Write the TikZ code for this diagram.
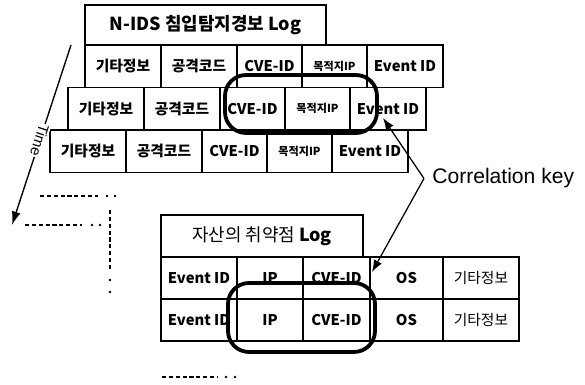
\documentclass[tikz,border=0pt]{standalone}
\usepackage{fontspec}
\setmainfont{Noto Sans CJK KR}
\newfontfamily\arialfont{Liberation Sans}
\usetikzlibrary{positioning, arrows.meta}

\begin{document}
\begin{tikzpicture}[
    cell/.style={draw, line width=1.4pt, rectangle, fill=white, align=center,
                 font=\fontsize{14}{16}\selectfont\bfseries,
                 minimum height=1.417cm, inner sep=0pt, outer sep=0pt},
    titlebox/.style={cell, font=\fontsize{17}{20}\selectfont\bfseries},
    wide/.style={minimum width=2.533cm},
    narrow/.style={minimum width=2.167cm},
    smallkr/.style={font=\fontsize{10.5}{12}\selectfont\bfseries},
    plainkr/.style={font=\fontsize{14}{16}\selectfont},
    keybox/.style={draw, line width=3.6pt, rounded corners=0.7cm, inner sep=0pt},
    keyarrow/.style={line width=1.2pt, -{Latex[length=0.4cm, width=0.3cm]}},
    trail/.style={line width=2.4pt, dash pattern=on 4pt off 2.5pt}
]
    \useasboundingbox (0,0) rectangle (19.5,-12.833);

    % --- N-IDS Log (stacked records) ---
    \node[titlebox, anchor=north west, minimum width=8.033cm, minimum height=1.333cm]
        (ids) at (2.833,-0.167) {N-IDS 침입탐지경보 Log};

    \node[cell, wide, anchor=north west] (ids1etc) at (ids.south west) {기타정보};
    \node[cell, wide, right=0pt of ids1etc]   (ids1atk) {공격코드};
    \node[cell, narrow, right=0pt of ids1atk] (ids1cve) {CVE-ID};
    \node[cell, narrow, smallkr, right=0pt of ids1cve] (ids1dst) {목적지IP};
    \node[cell, wide, right=0pt of ids1dst]   (ids1evt) {Event ID};

    \node[cell, wide, anchor=north west] (ids2etc) at (2.267,-2.917) {기타정보};
    \node[cell, wide, right=0pt of ids2etc]   (ids2atk) {공격코드};
    \node[cell, narrow, right=0pt of ids2atk] (ids2cve) {CVE-ID};
    \node[cell, narrow, smallkr, right=0pt of ids2cve] (ids2dst) {목적지IP};
    \node[cell, wide, right=0pt of ids2dst]   (ids2evt) {Event ID};

    \node[cell, wide, anchor=north west] (ids3etc) at (1.667,-4.333) {기타정보};
    \node[cell, wide, right=0pt of ids3etc]   (ids3atk) {공격코드};
    \node[cell, narrow, right=0pt of ids3atk] (ids3cve) {CVE-ID};
    \node[cell, narrow, smallkr, right=0pt of ids3cve] (ids3dst) {목적지IP};
    \node[cell, wide, right=0pt of ids3dst]   (ids3evt) {Event ID};

    % --- Vulnerability Log ---
    \node[cell, plainkr, anchor=north west, minimum width=6.733cm, minimum height=1.4cm,
          font=\fontsize{17}{20}\selectfont]
        (vuln) at (5.367,-7.167) {자산의 취약점 {\bfseries Log}};

    \node[cell, wide, minimum height=1.4cm, anchor=north west] (vuln1evt) at (vuln.south west) {Event ID};
    \node[cell, minimum width=2.2cm, minimum height=1.4cm, right=0pt of vuln1evt]   (vuln1ip)  {IP};
    \node[cell, minimum width=2.233cm, minimum height=1.4cm, right=0pt of vuln1ip]  (vuln1cve) {CVE-ID};
    \node[cell, minimum width=2.433cm, minimum height=1.4cm, right=0pt of vuln1cve] (vuln1os)  {OS};
    \node[cell, plainkr, wide, minimum height=1.4cm, right=0pt of vuln1os]          (vuln1etc) {기타정보};

    \node[cell, wide, minimum height=1.4cm, anchor=north west] (vuln2evt) at (vuln1evt.south west) {Event ID};
    \node[cell, minimum width=2.2cm, minimum height=1.4cm, right=0pt of vuln2evt]   (vuln2ip)  {IP};
    \node[cell, minimum width=2.233cm, minimum height=1.4cm, right=0pt of vuln2ip]  (vuln2cve) {CVE-ID};
    \node[cell, minimum width=2.433cm, minimum height=1.4cm, right=0pt of vuln2cve] (vuln2os)  {OS};
    \node[cell, plainkr, wide, minimum height=1.4cm, right=0pt of vuln2os]          (vuln2etc) {기타정보};

    % --- Correlation keys ---
    \node[keybox, minimum width=5.067cm, minimum height=1.933cm] (key1) at (10.033,-3.467) {};
    \node[keybox, minimum width=4.9cm, minimum height=2.3cm]     (key2) at (10.05,-10.583) {};

    \node[anchor=west, inner sep=0.27cm, font=\arialfont\fontsize{20}{24}\selectfont]
        (corr) at (14.133,-5.95) {Correlation key};
    \coordinate (tip1) at (12.767,-3.933);
    \coordinate (tip2) at (12.4,-9.067);
    \draw[keyarrow] (corr.west) -- (tip1);
    \draw[keyarrow] (corr.west) -- (tip2);

    % --- Time axis ---
    \coordinate (tstart) at (2.367,-1.5);
    \coordinate (tend)   at (0.4,-7.5);
    \draw[line width=1.3pt, -{Latex[length=0.45cm, width=0.3cm]}] (tstart) -- (tend)
        node[pos=0.53, sloped, allow upside down, fill=white, inner sep=1pt,
             font=\arialfont\fontsize{14}{16}\selectfont] {Time};

    % --- more records ---
    \draw[trail] (1.333,-6.533) -- (3.267,-6.533);
    \fill (3.567,-6.533) circle (1.3pt) (3.833,-6.533) circle (1.3pt);
    \draw[trail] (0.833,-7.5) -- (2.733,-7.5);
    \fill (3.067,-7.5) circle (1.3pt) (3.333,-7.5) circle (1.3pt);
    \draw[trail] (3.667,-7.0) -- (3.667,-9.0);
    \fill (3.667,-9.333) circle (1.3pt) (3.667,-9.733) circle (1.3pt);
    \draw[trail] (5.4,-12.567) -- (7.267,-12.567);
    \fill (7.533,-12.567) circle (1.3pt) (7.833,-12.567) circle (1.3pt);
\end{tikzpicture}
\end{document}
